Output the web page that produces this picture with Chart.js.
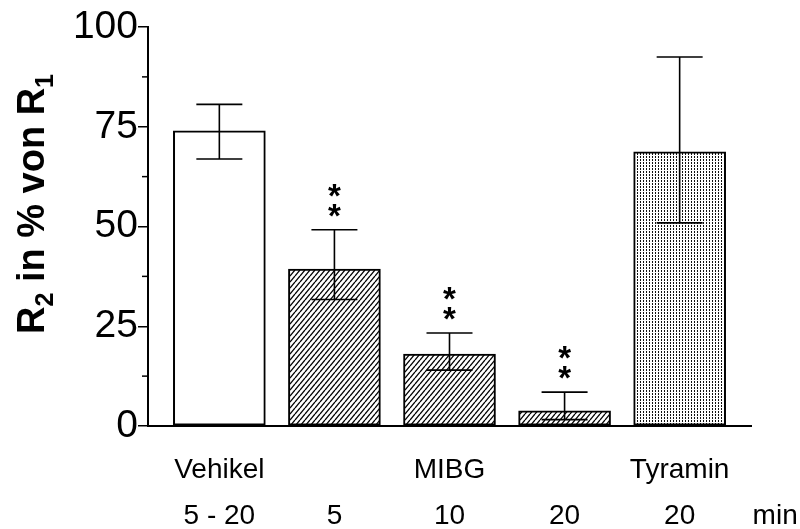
<!DOCTYPE html>
<html>
<head>
<meta charset="utf-8">
<script src="https://cdn.jsdelivr.net/npm/chart.js@4"></script>
<style>
  body { margin: 0; background: #fff; }
</style>
</head>
<body>
<canvas id="myChart" width="800" height="529"></canvas>
<script>
// values
const groupLabels = ['Vehikel', '', 'MIBG', '', 'Tyramin'];
const timeLabels = ['5 - 20', '5', '10', '20', '20'];
const unitLabel = 'min';
const means = [74, 39.3, 18, 3.8, 68.7];
const errLow = [66.9, 31.7, 14, 1.6, 50.9];
const errHigh = [80.6, 49.2, 23.3, 8.5, 92.5];
const stars = ['', '**', '**', '**', ''];
const fills = ['white', 'hatch', 'hatch', 'hatch', 'dots'];
const yTicks = [0, 25, 50, 75, 100];

const FONT = '"Liberation Sans", Arial, sans-serif';

function makeHatch() {
  const c = document.createElement('canvas');
  c.width = 5; c.height = 6;
  const g = c.getContext('2d');
  g.fillStyle = '#fff';
  g.fillRect(0, 0, 5, 6);
  g.strokeStyle = '#000';
  g.lineWidth = 1.3;
  for (let k = -1; k <= 1; k++) {
    g.beginPath();
    g.moveTo(k * 5, 6);
    g.lineTo(k * 5 + 5, 0);
    g.stroke();
  }
  return g.createPattern(c, 'repeat');
}

function makeDots() {
  const c = document.createElement('canvas');
  c.width = 3; c.height = 3;
  const g = c.getContext('2d');
  g.fillStyle = '#fff';
  g.fillRect(0, 0, 3, 3);
  g.fillStyle = '#111';
  g.fillRect(1, 0, 1, 2);
  return g.createPattern(c, 'repeat');
}

const patterns = { white: '#ffffff', hatch: makeHatch(), dots: makeDots() };

// error bars, stars and the two-row category labels
const extras = {
  id: 'extras',
  afterDatasetsDraw(chart) {
    const { ctx, scales: { x, y } } = chart;
    ctx.save();
    ctx.strokeStyle = '#000';
    ctx.lineWidth = 1.6;
    means.forEach((m, i) => {
      const cx = x.getPixelForValue(i);
      const lo = y.getPixelForValue(errLow[i]);
      const hi = y.getPixelForValue(errHigh[i]);
      ctx.beginPath();
      ctx.moveTo(cx, lo); ctx.lineTo(cx, hi);
      ctx.moveTo(cx - 23, lo); ctx.lineTo(cx + 23, lo);
      ctx.moveTo(cx - 23, hi); ctx.lineTo(cx + 23, hi);
      ctx.stroke();

      if (stars[i]) {
        ctx.fillStyle = '#000';
        ctx.font = 'bold 33px ' + FONT;
        ctx.textAlign = 'center';
        ctx.textBaseline = 'alphabetic';
        const s = stars[i].split('');
        s.forEach((ch, k) => {
          ctx.fillText(ch, cx, hi - 22 - k * 20 + 19);
        });
      }
    });

    // minor ticks
    ctx.lineWidth = 1.5;
    for (let v = 12.5; v < 100; v += 25) {
      const py = y.getPixelForValue(v);
      ctx.beginPath();
      ctx.moveTo(x.left - 6, py); ctx.lineTo(x.left, py);
      ctx.stroke();
    }

    // category labels
    ctx.fillStyle = '#000';
    ctx.font = '28px ' + FONT;
    ctx.textAlign = 'center';
    ctx.textBaseline = 'alphabetic';
    groupLabels.forEach((t, i) => {
      if (t) ctx.fillText(t, x.getPixelForValue(i), 478);
    });
    timeLabels.forEach((t, i) => {
      ctx.fillText(t, x.getPixelForValue(i), 524);
    });
    ctx.fillText(unitLabel, x.getPixelForValue(4.83), 524);

    // y title with subscripts
    ctx.translate(44, 204);
    ctx.rotate(-Math.PI / 2);
    const parts = [['R', 38, 0], ['2', 25, 9], [' in % von R', 38, 0], ['1', 25, 9]];
    let total = 0;
    parts.forEach(p => {
      ctx.font = 'bold ' + p[1] + 'px ' + FONT;
      total += ctx.measureText(p[0]).width;
    });
    let px = -total / 2;
    ctx.textAlign = 'left';
    parts.forEach(p => {
      ctx.font = 'bold ' + p[1] + 'px ' + FONT;
      ctx.fillText(p[0], px, p[2]);
      px += ctx.measureText(p[0]).width;
    });
    ctx.restore();
  }
};

new Chart(document.getElementById('myChart'), {
  type: 'bar',
  data: {
    datasets: [{
      data: means.map((v, i) => ({ x: i, y: v })),
      backgroundColor: fills.map(f => patterns[f]),
      borderColor: '#000',
      borderWidth: 2,
      borderSkipped: false,
      barThickness: 92
    }]
  },
  options: {
    responsive: false,
    animation: false,
    devicePixelRatio: 1,
    layout: { padding: { top: 27, right: 49, left: 0, bottom: 0 } },
    plugins: { legend: { display: false }, tooltip: { enabled: false } },
    scales: {
      x: {
        type: 'linear',
        min: -0.62,
        max: 4.62,
        offset: false,
        grid: { display: false },
        ticks: { display: false },
        border: { display: true, color: '#000', width: 2 },
        afterFit: s => { s.height = 103; }
      },
      y: {
        min: 0,
        max: 100,
        afterBuildTicks: s => { s.ticks = yTicks.map(v => ({ value: v })); },
        ticks: {
          color: '#000',
          padding: 0,
          font: { family: FONT, size: 39 }
        },
        grid: { drawOnChartArea: false, tickLength: 10, color: '#000', lineWidth: 1.5 },
        border: { display: true, color: '#000', width: 2 },
        afterFit: s => { s.width = 148; }
      }
    }
  },
  plugins: [extras]
});
</script>
</body>
</html>
